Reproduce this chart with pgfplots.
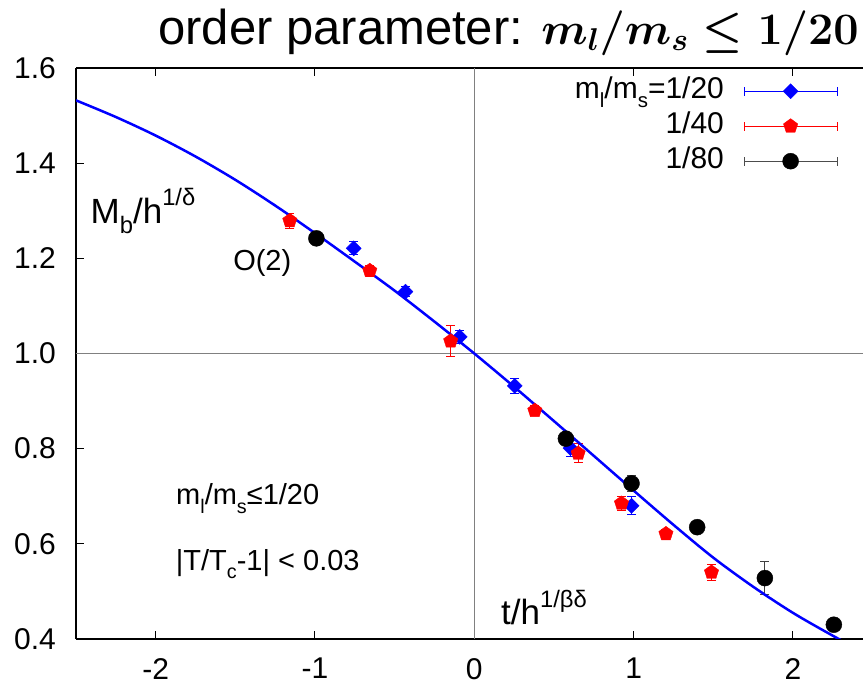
\RequirePackage{fix-cm}
\documentclass[border=0pt]{standalone}
\usepackage{fontspec}
\setmainfont{Liberation Sans}
\usepackage{graphicx}
\usepackage{pgfplots}
\pgfplotsset{compat=1.18}
\newcommand{\sups}[1]{\raisebox{0.5em}{\scalebox{0.68}{#1}}}
\newcommand{\subs}[1]{\raisebox{-0.3em}{\scalebox{0.68}{#1}}}
\newcommand{\titletext}{order parameter: {\fontsize{45bp}{54bp}\selectfont\boldmath$m_l/m_s \leq 1/20$}}
\pgfplotsset{errleg/.style={legend image code/.code={
    \path (0bp,0bp) (113bp,0bp);
    \draw[#1, line width=1bp] (20bp,0bp) -- (113bp,0bp) (20bp,-4.5bp) -- (20bp,4.5bp) (113bp,-4.5bp) -- (113bp,4.5bp);
    \draw[##1] plot coordinates {(66.5bp,0bp)};
  }}}
\pgfplotstableread{
x y e
-0.757 1.221 0.014
-0.432 1.130 0.010
-0.091 1.035 0.014
0.254 0.932 0.016
0.604 0.801 0.017
0.987 0.680 0.019
}\tblA
\pgfplotstableread{
x y e
-1.158 1.279 0.016
-0.656 1.174 0.010
-0.148 1.026 0.032
0.380 0.880 0.010
0.652 0.790 0.020
0.924 0.685 0.015
1.203 0.621 0.010
1.489 0.540 0.017
}\tblB
\pgfplotstableread{
x y e
-0.991 1.242 0.008
0.575 0.821 0.008
0.987 0.727 0.016
1.399 0.635 0.010
1.824 0.528 0.035
2.257 0.430 0.010
}\tblC
\pgfplotstableread{
x y
-2.5 1.532
-2.25 1.497
-2.0 1.458
-1.75 1.414
-1.5 1.365
-1.25 1.311
-1.0 1.253
-0.75 1.193
-0.5 1.132
-0.25 1.067
0 1.000
0.25 0.930
0.5 0.858
0.75 0.785
1.0 0.712
1.25 0.640
1.5 0.571
1.75 0.510
2.0 0.455
2.25 0.407
2.5 0.362
}\tblCurve
\begin{document}
\begin{tikzpicture}
\begin{axis}[
  scale only axis, width=787bp, height=571bp,
  at={(76bp,45bp)}, anchor=south west,
  xmin=-2.5, xmax=2.44, ymin=0.4, ymax=1.6,
  axis y line*=left, axis x line*=box,
  axis line style={line width=1.5bp},
  xtick={-2,-1,0,1,2}, ytick={0.4,0.6,0.8,1.0,1.2,1.4,1.6},
  tick align=inside, major tick length=8bp,
  tick style={black, line width=1bp},
  ytick pos=left,
  tick label style={font=\fontsize{30bp}{36bp}\selectfont, inner sep=0pt},
  yticklabel style={xshift=-20bp, /pgf/number format/.cd, fixed, fixed zerofill, precision=1, assume math mode=true},
  xticklabel style={yshift=-19bp, /pgf/number format/assume math mode=true},
  title={\titletext},
  title style={at={(rel axis cs:0.995,1)}, anchor=base east, yshift=18bp, inner sep=0pt, font=\fontsize{49bp}{58bp}\selectfont},
  legend plot pos=right,
  legend cell align=right,
  legend style={draw=none, fill=none, at={(rel axis cs:0.968,0.986)}, anchor=north east,
    inner sep=0pt, row sep=5bp,
    font=\fontsize{30bp}{36bp}\selectfont,
    nodes={inner sep=0pt, text height=22bp, text depth=8bp}},
]
\draw[gray, line width=1.2bp] (axis cs:0,0.4) -- (axis cs:0,1.6);
\draw[gray, line width=1.2bp] (axis cs:-2.5,1) -- (axis cs:2.44,1);

\addplot[only marks, color=blue, mark=square*, mark size=5.3bp, mark options={rotate=45, fill=blue, draw=blue},
  errleg=blue,
  error bars/.cd, y dir=both, y explicit,
  error bar style={line width=1bp, blue},
  error mark options={rotate=90, mark size=4.5bp, line width=1bp, blue}]
  table[x=x, y=y, y error=e] {\tblA};
\addlegendentry{m\subs{l}/m\subs{s}=1/20}
\addplot[only marks, color=red, mark=pentagon*, mark size=7.5bp, mark options={fill=red, draw=red},
  errleg=red,
  error bars/.cd, y dir=both, y explicit,
  error bar style={line width=1bp, red},
  error mark options={rotate=90, mark size=4.5bp, line width=1bp, red}]
  table[x=x, y=y, y error=e] {\tblB};
\addlegendentry{1/40}
\addplot[only marks, color=black, mark=*, mark size=8bp, mark options={fill=black, draw=black},
  errleg=black!70,
  error bars/.cd, y dir=both, y explicit,
  error bar style={line width=1bp, black!75},
  error mark options={rotate=90, mark size=4.5bp, line width=1bp, black!75}]
  table[x=x, y=y, y error=e] {\tblC};
\addlegendentry{1/80}

\addplot[blue, line width=2.5bp, no marks, smooth, forget plot] table[x=x, y=y] {\tblCurve};

\node[anchor=base west, font=\fontsize{35bp}{42bp}\selectfont] at (axis cs:-2.43,1.274) {M\subs{b}/h\sups{1/δ}};
\node[anchor=base west, font=\fontsize{29bp}{35bp}\selectfont] at (axis cs:-1.535,1.175) {O(2)};
\node[anchor=base west, font=\fontsize{29bp}{35bp}\selectfont] at (axis cs:-1.893,0.682) {m\subs{l}/m\subs{s}≤1/20};
\node[anchor=base west, font=\fontsize{29bp}{35bp}\selectfont] at (axis cs:-1.895,0.545) {|T/T\subs{c}-1| < 0.03};
\node[anchor=base west, font=\fontsize{35bp}{42bp}\selectfont] at (axis cs:0.147,0.430) {t/h\sups{1/βδ}};
\end{axis}
\pgfresetboundingbox
\path[use as bounding box] (0,0) rectangle (863bp,684bp);
\end{tikzpicture}
\end{document}
